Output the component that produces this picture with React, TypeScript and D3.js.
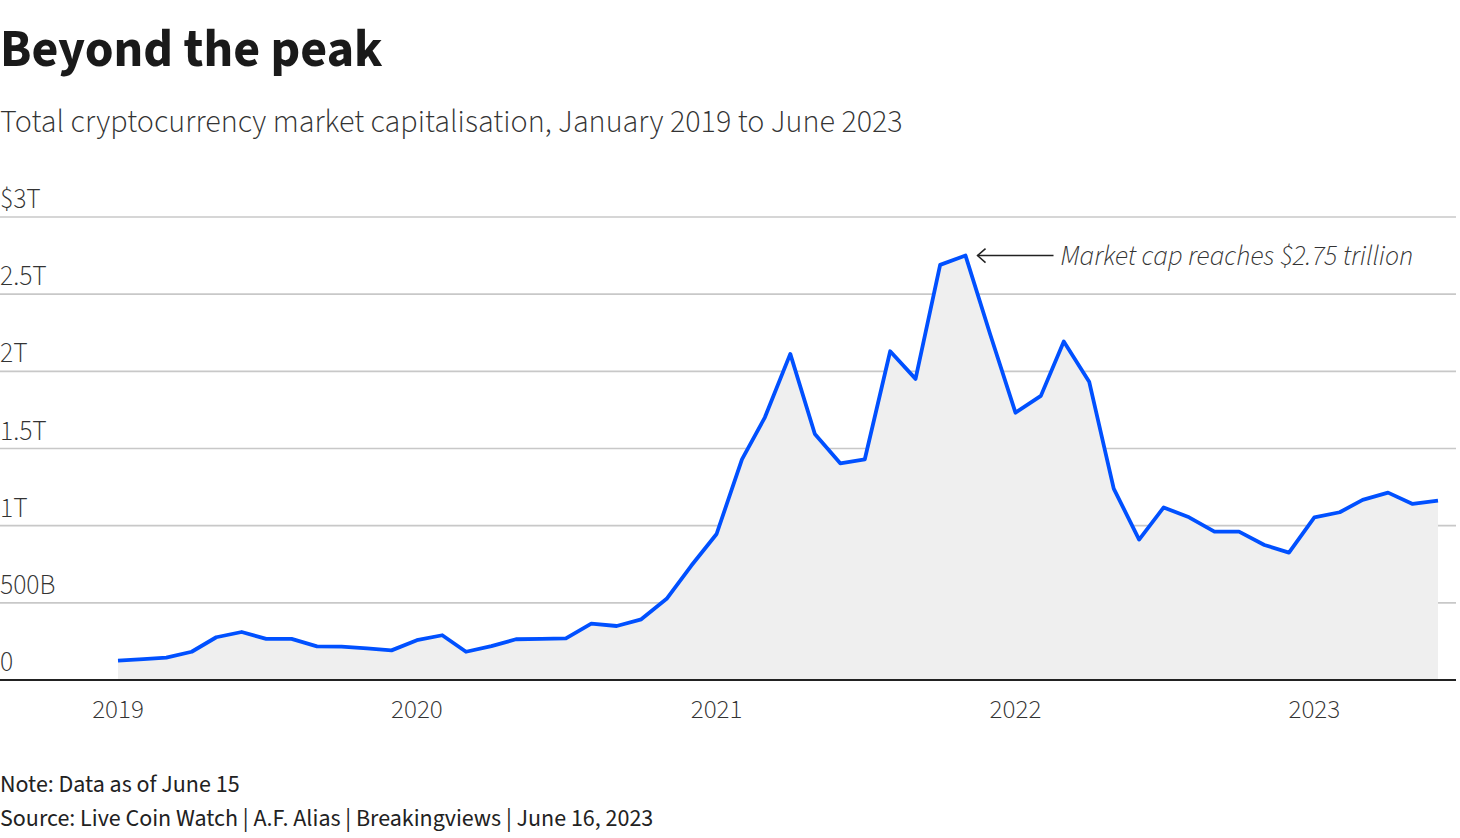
import * as d3 from "d3";

// Total crypto market cap, billions of USD, one value per month
const cap2019 = [125, 135, 145, 183, 277, 311, 266, 266, 218, 216, 205, 192];
const cap2020 = [258, 290, 183, 220, 264, 266, 270, 365, 350, 393, 526, 740];
const cap2021 = [946, 1430, 1702, 2113, 1594, 1404, 1430, 2130, 1951, 2690, 2750, 2242];
const cap2022 = [1732, 1841, 2193, 1933, 1240, 910, 1118, 1054, 961, 961, 875, 825];
const cap2023 = [1054, 1087, 1167, 1214, 1141, 1162];

const yearTicks = [2019, 2020, 2021, 2022, 2023];
const yTicks = [0, 500, 1000, 1500, 2000, 2500, 3000];
const yTickLabels = ["0", "500B", "1T", "1.5T", "2T", "2.5T", "$3T"];

const PEAK_LABEL = "Market cap reaches $2.75 trillion";

const W = 1460;
const H = 838;
const FONT = "'Source Sans 3', 'Source Sans Pro', Lato, 'Noto Sans', sans-serif";

const values = [...cap2019, ...cap2020, ...cap2021, ...cap2022, ...cap2023];
const data = values.map((v, i) => ({ date: new Date(2019, i, 1), value: v }));

export default function App() {
  const x = d3
    .scaleTime()
    .domain([new Date(2019, 0, 1), new Date(2023, 5, 1)])
    .range([118, 1438]);
  const y = d3.scaleLinear().domain([0, 3000]).range([680, 217]);

  const line = d3
    .line<{ date: Date; value: number }>()
    .x((d) => x(d.date))
    .y((d) => y(d.value));
  const area = d3
    .area<{ date: Date; value: number }>()
    .x((d) => x(d.date))
    .y0(y(0))
    .y1((d) => y(d.value));

  // peak point for the annotation
  const peak = data.reduce((a, b) => (b.value > a.value ? b : a));
  const px = x(peak.date);
  const py = y(peak.value);

  return (
    <svg
      width={W}
      height={H}
      style={{ position: "absolute", left: 0, top: 0, background: "#fff" }}
      fontFamily={FONT}
    >
      <text x={0} y={66} fontSize={52} fontWeight={700} fill="#1a1a1a">
        Beyond the peak
      </text>
      <text x={0} y={132} fontSize={32} fontWeight={300} fill="#333">
        Total cryptocurrency market capitalisation, January 2019 to June 2023
      </text>

      {/* gridlines + y labels */}
      {yTicks.map((t, i) => (
        <g key={t}>
          {t > 0 && (
            <line x1={0} x2={1456} y1={y(t)} y2={y(t)} stroke="#c8c8c8" strokeWidth={1.6} />
          )}
          <text x={0} y={y(t) - 9} fontSize={27.5} fontWeight={300} fill="#333">
            {yTickLabels[i]}
          </text>
        </g>
      ))}

      <path d={area(data) ?? ""} fill="#efefef" />
      <line x1={0} x2={1456} y1={y(0)} y2={y(0)} stroke="#222" strokeWidth={2} />
      <path
        d={line(data) ?? ""}
        fill="none"
        stroke="#0050ff"
        strokeWidth={3.8}
        strokeLinejoin="round"
      />

      {/* x labels */}
      {yearTicks.map((yr) => (
        <text
          key={yr}
          x={x(new Date(yr, 0, 1))}
          y={718}
          textAnchor="middle"
          fontSize={27}
          fontWeight={300}
          fill="#333"
        >
          {yr}
        </text>
      ))}

      {/* annotation */}
      <line x1={px + 12} x2={px + 88} y1={py} y2={py} stroke="#222" strokeWidth={1.5} />
      <path
        d={`M${px + 20},${py - 7} L${px + 12},${py} L${px + 20},${py + 7}`}
        fill="none"
        stroke="#222"
        strokeWidth={1.5}
      />
      <text
        x={px + 95}
        y={py + 9}
        fontSize={27.8}
        fontWeight={300}
        fontStyle="italic"
        fill="#333"
      >
        {PEAK_LABEL}
      </text>

      <text x={0} y={792} fontSize={24} fill="#222">
        Note: Data as of June 15
      </text>
      <text x={0} y={826} fontSize={24} fill="#222">
        Source: Live Coin Watch | A.F. Alias | Breakingviews | June 16, 2023
      </text>
    </svg>
  );
}
